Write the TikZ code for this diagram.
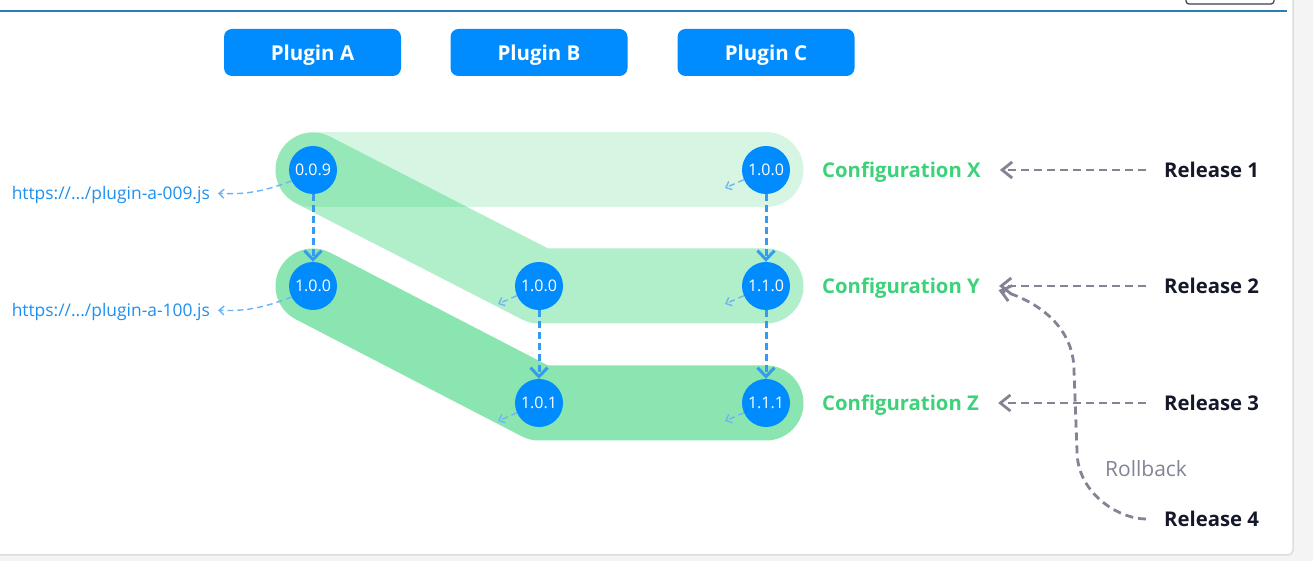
\documentclass[tikz,border=0pt]{standalone}
\usepackage{fontspec}
\setmainfont{Open Sans}
\usetikzlibrary{arrows.meta}

\definecolor{plugblue}{RGB}{0,140,255}
\definecolor{bandgreen}{RGB}{40,208,110}
\definecolor{cfggreen}{RGB}{61,210,122}
\definecolor{reldark}{RGB}{20,24,40}
\definecolor{urlblue}{RGB}{30,144,240}
\definecolor{linkblue}{RGB}{110,180,245}
\definecolor{verblue}{RGB}{52,155,240}
\definecolor{relgray}{RGB}{130,132,148}
\definecolor{pagegray}{RGB}{244,244,244}
\definecolor{panelline}{RGB}{221,221,221}
\definecolor{topline}{RGB}{42,127,184}
\definecolor{boxdark}{RGB}{58,63,75}

\begin{document}
\begin{tikzpicture}[x=1pt,y=1pt]
	\tikzset{plugin/.style = {shape=rectangle, rounded corners=8pt, fill=plugblue, text=white, minimum width=177pt, minimum height=47pt, text depth=0pt, font=\fontsize{20.5}{20.5}\selectfont\bfseries}}
	\tikzset{version/.style = {shape=circle, fill=plugblue, text=white, minimum size=48pt, inner sep=0pt, text depth=0pt, font=\fontsize{16}{16}\selectfont}}
	\tikzset{band/.style = {line width=75pt, line cap=round, line join=round, draw=bandgreen}}
	\tikzset{config/.style = {anchor=west, inner sep=3pt, text depth=0pt, text=cfggreen, font=\fontsize{20.3}{20.3}\selectfont\bfseries}}
	\tikzset{release/.style = {anchor=west, inner sep=3pt, text depth=0pt, text=reldark, font=\fontsize{20.3}{20.3}\selectfont\bfseries}}
	\tikzset{url/.style = {anchor=east, inner sep=3pt, text depth=0pt, text=urlblue, font=\fontsize{17.4}{17.4}\selectfont}}
	\tikzset{verarrow/.style = {draw=verblue, line width=3pt, dash pattern=on 7pt off 4pt, -{Straight Barb[length=9pt, width=17pt, line width=3pt]}}}
	\tikzset{linkarrow/.style = {draw=linkblue, line width=1.4pt, dash pattern=on 6pt off 4pt, -{Straight Barb[length=5pt, width=9pt, line width=1.4pt]}}}
	\tikzset{relarrow/.style = {draw=relgray, line width=2.8pt, dash pattern=on 8pt off 5pt, shorten <=15pt, shorten >=16pt, -{Straight Barb[length=10pt, width=16pt, line width=2.8pt]}}}

	\useasboundingbox (0,0) rectangle (1313,561);
	\fill[pagegray] (0,0) rectangle (1313,561);
	\filldraw[fill=white, draw=panelline, line width=1.5pt, rounded corners=5pt] (-10,6) rectangle (1293,580);
	\draw[topline, line width=1.2pt] (0,550) -- (1287,550);
	\draw[boxdark, line width=1.2pt, rounded corners=3pt] (1186,570) -- (1186,557) -- (1274,557) -- (1274,570);

	\node[plugin] (plga) at (312.5,508.5) {Plugin A};
	\node[plugin] (plgb) at (539,508.5) {Plugin B};
	\node[plugin] (plgc) at (766,508.5) {Plugin C};

	\draw[band, draw opacity=0.19] (313,391) -- (766,391);
	\draw[band, draw opacity=0.36] (313,391) -- (539,275) -- (766,275);
	\draw[band, draw opacity=0.54] (313,275) -- (539,158) -- (766,158);

	\node[version] (a009) at (313,391) {0.0.9};
	\node[version] (a100) at (313,275) {1.0.0};
	\node[version] (b100) at (539,275) {1.0.0};
	\node[version] (b101) at (539,158) {1.0.1};
	\node[version] (c100) at (766,391) {1.0.0};
	\node[version] (c110) at (766,275) {1.1.0};
	\node[version] (c111) at (766,158) {1.1.1};

	\draw[verarrow] (a009) -- (a100);
	\draw[verarrow] (b100) -- (b101);
	\draw[verarrow] (c100) -- (c110);
	\draw[verarrow] (c110) -- (c111);

	\node[url] (url009) at (213,368) {https://.../plugin-a-009.js};
	\node[url] (url100) at (213,251) {https://.../plugin-a-100.js};
	\draw[linkarrow, shorten >=5pt] (a009.207) to[bend left=12] (url009.east);
	\draw[linkarrow, shorten >=5pt] (a100.207) to[bend left=12] (url100.east);

	\foreach \v in {b100,b101,c100,c110,c111} {
		\coordinate (\v-out) at ([shift={(-41,-18)}]\v.center);
		\draw[linkarrow] (\v) -- (\v-out);
	}

	\node[config] (cfgx) at (819,391) {Configuration X};
	\node[config] (cfgy) at (819,275) {Configuration Y};
	\node[config] (cfgz) at (819,158) {Configuration Z};

	\node[release] (rel1) at (1161,391) {Release 1};
	\node[release] (rel2) at (1161,275) {Release 2};
	\node[release] (rel3) at (1161,158) {Release 3};
	\node[release] (rel4) at (1161,42) {Release 4};
	\node[text=relgray, text depth=0pt, font=\fontsize{21}{21}\selectfont] (rbklabel) at (1146,92) {Rollback};

	\draw[relarrow] (rel1.west) -- (cfgx.east);
	\draw[relarrow] (rel2.west) -- (cfgy.east);
	\draw[relarrow] (rel3.west) -- (cfgz.east);

	\coordinate (rbk1) at (1077,110);
	\coordinate (rbk2) at (1074,190);
	\draw[relarrow] (rel4.west) to[out=180, in=-90] (rbk1) -- (rbk2) to[out=90, in=-15] (cfgy.east);

\end{tikzpicture}
\end{document}
